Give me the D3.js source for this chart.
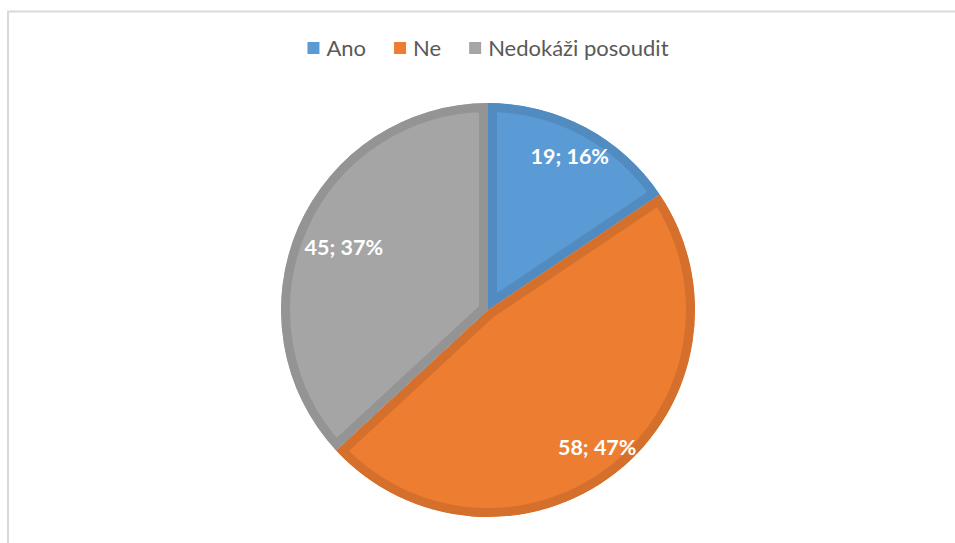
<!DOCTYPE html>
<html>
<head>
<meta charset="utf-8">
<script src="https://cdn.jsdelivr.net/npm/d3@7"></script>
<style>
  body { margin: 0; background: #fff; }
  svg { display: block; font-family: Lato, "Open Sans", sans-serif; }
</style>
</head>
<body>
<svg id="chart"></svg>
<script>
const categories = ["Ano", "Ne", "Nedokáži posoudit"];
const values = [19, 58, 45];
const percents = ["16%", "47%", "37%"];
const colors = ["#5b9bd5", "#ed7d31", "#a5a5a5"];

const width = 955, height = 543;
const cx = 488, cy = 310, radius = 207, borderW = 9;

const svg = d3.select("#chart").attr("width", width).attr("height", height);

// chart frame
svg.append("path")
  .attr("d", `M8,543 V11.5 H955`)
  .attr("fill", "none")
  .attr("stroke", "#d9d9d9")
  .attr("stroke-width", 2);

const pie = d3.pie().sort(null).value(d => d);
const arcs = pie(values);
const arc = d3.arc().innerRadius(0).outerRadius(radius);

const g = svg.append("g").attr("transform", `translate(${cx},${cy})`);
const defs = svg.append("defs");

arcs.forEach((a, i) => {
  defs.append("clipPath").attr("id", "clip" + i)
    .append("path").attr("d", arc(a));
  g.append("path")
    .attr("d", arc(a))
    .attr("fill", colors[i])
    .attr("stroke", d3.color(colors[i]).darker(0.3))
    .attr("stroke-width", borderW * 2)
    .attr("stroke-linejoin", "miter")
    .attr("clip-path", `url(#clip${i})`);
});

// data labels
const labelR = [0.84, 0.85, 0.76];
arcs.forEach((a, i) => {
  const mid = (a.startAngle + a.endAngle) / 2;
  const r = radius * labelR[i];
  g.append("text")
    .attr("x", Math.sin(mid) * r)
    .attr("y", -Math.cos(mid) * r)
    .attr("dy", "0.35em")
    .attr("text-anchor", "middle")
    .attr("fill", "#fff")
    .style("font-size", "21.5px")
    .style("font-weight", 700)
    .text(`${values[i]}; ${percents[i]}`);
});

// legend
const legend = svg.append("g");
let x = 0;
categories.forEach((c, i) => {
  const item = legend.append("g").attr("transform", `translate(${x},0)`);
  item.append("rect").attr("x", 0).attr("y", -14).attr("width", 12).attr("height", 12).attr("fill", colors[i]);
  const t = item.append("text").attr("x", 19).attr("y", 0)
    .attr("fill", "#595959").style("font-size", "22px").text(c);
  x += 19 + t.node().getComputedTextLength() + 28;
});
const legendW = x - 28;
legend.attr("transform", `translate(${cx - legendW / 2},56)`);
</script>
</body>
</html>
